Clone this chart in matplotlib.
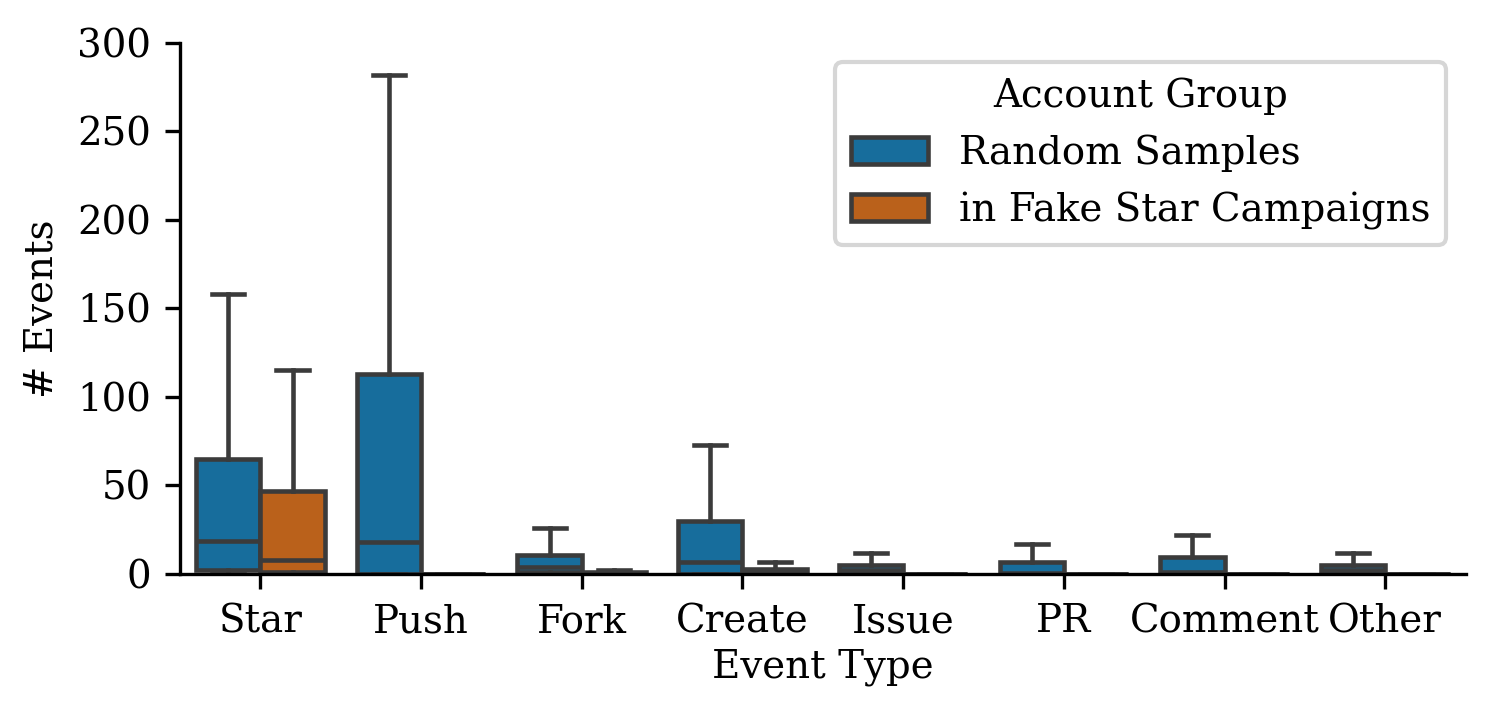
import colorsys
import matplotlib
matplotlib.use("Agg")
import matplotlib.pyplot as plt
from matplotlib.patches import Patch

plt.rcParams["font.family"] = ["DejaVu Serif"]
plt.rcParams["font.size"] = 9.3

categories = ["Star", "Push", "Fork", "Create", "Issue", "PR", "Comment", "Other"]
groups = ["Random Samples", "in Fake Star Campaigns"]

# box stats: lower whisker, q1, median, q3, upper whisker
random_whislo = [0, 0, 0, 0, 0, 0, 0, 0]
random_q1 = [2, 0, 1, 0, 0, 0, 0, 0]
random_med = [18.5, 18, 4, 7, 2, 0.5, 1, 2]
random_q3 = [65, 113, 11, 30, 5, 7, 9.5, 5]
random_whishi = [158, 282, 26, 73, 12, 17, 22, 12]

fake_whislo = [0, 0, 0, 0, 0, 0, 0, 0]
fake_q1 = [1, 0, 0, 0, 0, 0, 0, 0]
fake_med = [8, 0, 0.3, 1, 0, 0, 0, 0]
fake_q3 = [47, 0, 1, 3, 0, 0, 0, 0]
fake_whishi = [115, 0, 2, 7, 0, 0, 0, 0]


def desaturate(hex_color, prop=0.75):
    r, g, b = matplotlib.colors.to_rgb(hex_color)
    h, l, s = colorsys.rgb_to_hls(r, g, b)
    return colorsys.hls_to_rgb(h, l, s * prop)


colors = [desaturate("#0173b2"), desaturate("#d55e00")]
line_color = "#3b3b3b"
lw = 1.1

fig = plt.figure(figsize=(1494 / 300, 719 / 300), dpi=300)
ax = fig.add_axes([0.1205, 0.2017, 0.8605, 0.7386])

series = [
    (random_whislo, random_q1, random_med, random_q3, random_whishi),
    (fake_whislo, fake_q1, fake_med, fake_q3, fake_whishi),
]
width = 0.4
for gi, (wlo, q1, med, q3, whi) in enumerate(series):
    stats = []
    for i in range(len(categories)):
        stats.append({"whislo": wlo[i], "q1": q1[i], "med": med[i],
                      "q3": q3[i], "whishi": whi[i], "fliers": []})
    positions = [i - 0.2 + gi * width for i in range(len(categories))]
    ax.bxp(stats, positions=positions, widths=width, patch_artist=True,
           showfliers=False,
           boxprops=dict(facecolor=colors[gi], edgecolor=line_color, linewidth=lw),
           medianprops=dict(color=line_color, linewidth=lw),
           whiskerprops=dict(color=line_color, linewidth=lw),
           capprops=dict(color=line_color, linewidth=lw),
           capwidths=width / 2)

ax.set_xlim(-0.5, len(categories) - 0.5)
ax.set_ylim(0, 300)
ax.set_xticks(range(len(categories)))
ax.set_xticklabels(categories)
ax.set_yticks([0, 50, 100, 150, 200, 250, 300])
ax.set_xlabel("Event Type", labelpad=2)
ax.set_ylabel("# Events")
ax.spines["top"].set_visible(False)
ax.spines["right"].set_visible(False)

handles = [Patch(facecolor=colors[i], edgecolor=line_color, linewidth=lw, label=groups[i])
           for i in range(2)]
ax.legend(handles=handles, title="Account Group", loc="upper right")

fig.savefig("out.png", dpi=300)
